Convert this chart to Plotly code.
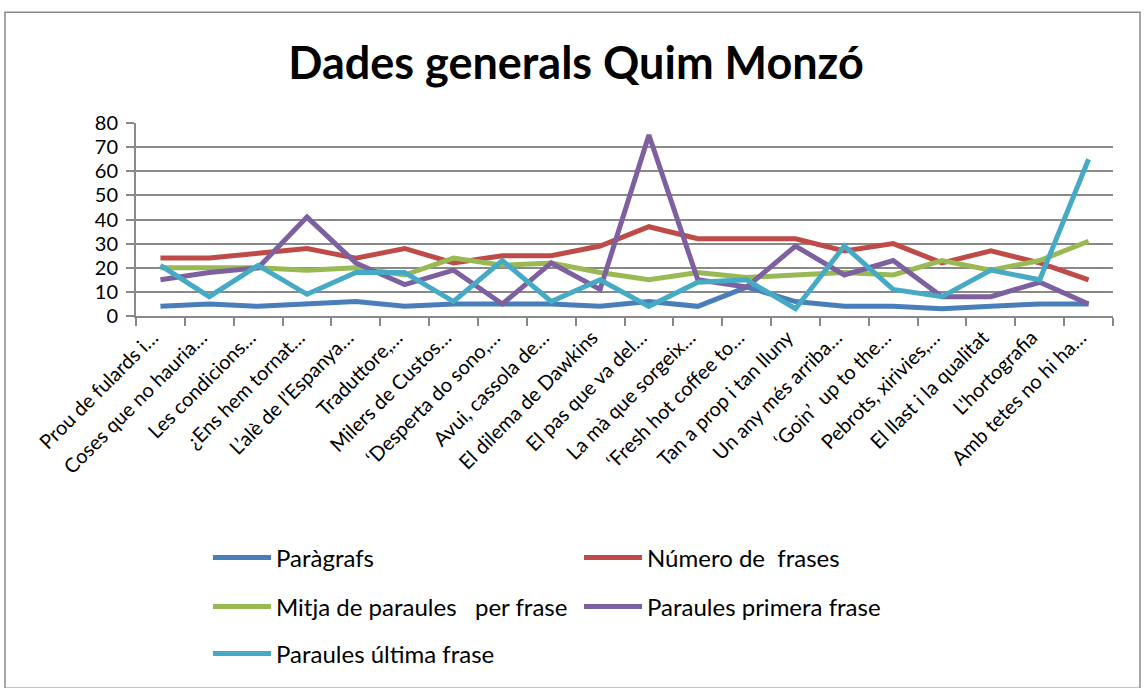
import plotly.graph_objects as go

categories = [
    "Prou de fulards i…", "Coses que no hauria…", "Les condicions…", "¿Ens hem tornat…",
    "L’alè de l’Espanya…", "Traduttore,…", "Milers de Custos…", "‘Desperta do sono,…",
    "Avui, cassola de…", "El dilema de Dawkins", "El pas que va del…", "La mà que sorgeix…",
    "‘Fresh hot coffee to…", "Tan a prop i tan lluny", "Un any més arriba…", "‘Goin’  up to the…",
    "Pebrots, xirivies,…", "El llast i la qualitat", "L'hortografia", "Amb tetes no hi ha…",
]
paragrafs = [4, 5, 4, 5, 6, 4, 5, 5, 5, 4, 6, 4, 12, 6, 4, 4, 3, 4, 5, 5]
num_frases = [24, 24, 26, 28, 24, 28, 22, 25, 25, 29, 37, 32, 32, 32, 27, 30, 22, 27, 22, 15]
mitja = [20, 20, 20, 19, 20, 17, 24, 21, 22, 18, 15, 18, 16, 17, 18, 17, 23, 19, 23, 31]
primera = [15, 18, 20, 41, 22, 13, 19, 5, 22, 11, 75, 15, 12, 29, 17, 23, 8, 8, 14, 5]
ultima = [21, 8, 21, 9, 18, 18, 6, 23, 6, 15, 4, 14, 15, 3, 29, 11, 8, 19, 15, 65]
y_ticks = [0, 10, 20, 30, 40, 50, 60, 70, 80]

series = [
    ("Paràgrafs", paragrafs, "#4A7EBB", "legend"),
    ("Número de  frases", num_frases, "#BE4B48", "legend"),
    ("Mitja de paraules   per frase", mitja, "#98B954", "legend2"),
    ("Paraules primera frase", primera, "#7D60A0", "legend2"),
    ("Paraules última frase", ultima, "#46AAC5", "legend3"),
]

FONT = "Lato"
fig = go.Figure()
for name, vals, color, lg in series:
    fig.add_trace(go.Scatter(
        x=categories, y=vals, name=name, mode="lines",
        line=dict(color=color, width=5), legend=lg,
    ))

W, H = 1144, 688
L, R, T, B = 136, 31, 123, 368
pw, ph = W - L - R, H - T - B

def px(x):
    return (x - L) / pw

def py(y):
    return (H - B - y) / ph

leg_common = dict(orientation="h", entrywidth=298, entrywidthmode="pixels",
                  itemwidth=58, font=dict(family=FONT, size=24, color="#000"),
                  bgcolor="rgba(0,0,0,0)", xanchor="left", yanchor="middle",
                  traceorder="normal", tracegroupgap=0)

fig.update_layout(
    width=W, height=H,
    margin=dict(l=L, r=R, t=T, b=B),
    paper_bgcolor="white", plot_bgcolor="white",
    title=dict(text="<b>Dades generals Quim Monzó</b>", x=576 / W, xref="container",
               xanchor="center", y=1 - 63 / H, yanchor="middle",
               font=dict(family=FONT, size=45, color="#000")),
    font=dict(family=FONT, size=20, color="#000"),
    legend=dict(x=px(208), y=py(567), **leg_common),
    legend2=dict(x=px(208), y=py(617), **leg_common),
    legend3=dict(x=px(208), y=py(665), **leg_common),
    xaxis=dict(
        type="category", tickangle=-45, tickson="boundaries",
        ticks="outside", ticklen=8, tickcolor="#898989", tickwidth=2,
        showline=True, linecolor="#898989", linewidth=2,
        showgrid=False, tickfont=dict(family=FONT, size=20, color="#000"),
        range=[-0.5, len(categories) - 0.5], ticklabelshift=-8,
    ),
    yaxis=dict(
        range=[0, 80], tickvals=y_ticks, ticks="outside", ticklen=8,
        tickcolor="#898989", tickwidth=2,
        showline=True, linecolor="#898989", linewidth=2,
        showgrid=True, gridcolor="#898989", gridwidth=2, zeroline=False,
        tickfont=dict(family=FONT, size=20, color="#000"), ticklabelstandoff=4,
    ),
    shapes=[dict(type="rect", xref="paper", yref="paper",
                 x0=px(5), x1=px(1140), y0=py(700), y1=py(10),
                 line=dict(color="#898989", width=1.5), fillcolor="rgba(0,0,0,0)",
                 layer="below")],
)

fig.write_html("out.html", config={"displayModeBar": False},
               post_script="document.body.style.margin='0';document.body.style.overflow='hidden';")
